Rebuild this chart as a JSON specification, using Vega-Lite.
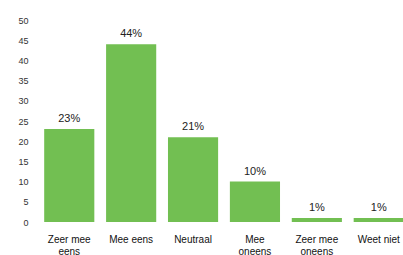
{
  "$schema": "https://vega.github.io/schema/vega-lite/v6.json",
  "autosize": {"type": "none"},
  "width": 372,
  "height": 202,
  "padding": {"left": 38, "top": 20, "right": 0, "bottom": 33},
  "background": "white",
  "config": {"view": {"stroke": null}},
  "data": {"values": [
    {"cat": "Zeer mee|eens", "v": 23, "lab": "23%"},
    {"cat": "Mee eens", "v": 44, "lab": "44%"},
    {"cat": "Neutraal", "v": 21, "lab": "21%"},
    {"cat": "Mee|oneens", "v": 10, "lab": "10%"},
    {"cat": "Zeer mee|oneens", "v": 1, "lab": "1%"},
    {"cat": "Weet niet", "v": 1, "lab": "1%"}
  ]},
  "encoding": {
    "x": {"field": "cat", "type": "nominal", "sort": null,
      "scale": {"paddingInner": 0.19, "paddingOuter": 0.1},
      "axis": {"title": null, "labelAngle": 0, "domain": false, "ticks": false,
        "labelExpr": "split(datum.label, '|')", "labelFont": "Liberation Sans",
        "labelFontSize": 10, "labelColor": "#111111", "labelPadding": 12, "labelLineHeight": 12}},
    "y": {"field": "v", "type": "quantitative",
      "scale": {"domain": [0, 50]},
      "axis": {"title": null, "values": [0,5,10,15,20,25,30,35,40,45,50], "domain": false, "ticks": false, "grid": false,
        "labelFont": "Liberation Sans", "labelFontSize": 9, "labelColor": "#333333", "labelPadding": 10}}
  },
  "layer": [
    {"mark": {"type": "bar", "color": "#72bf52"}},
    {"mark": {"type": "text", "baseline": "bottom", "dy": -5, "font": "Liberation Sans", "fontSize": 11, "color": "#222222"},
     "encoding": {"text": {"field": "lab"}}}
  ]
}
